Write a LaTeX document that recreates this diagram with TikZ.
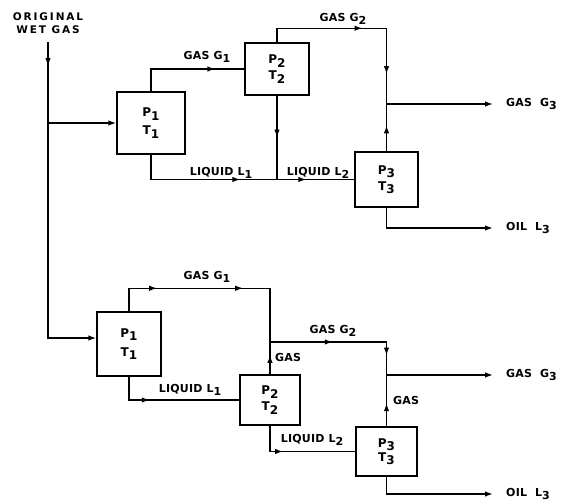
\documentclass[tikz,border=0pt]{standalone}
\usepackage{fontspec}
\setmainfont{DejaVu Sans}
\newfontfamily\stencil[LetterSpace=2]{DejaVu Sans}
\newfontfamily\widestencil[LetterSpace=18]{DejaVu Sans}
\usepackage{tikz}
\usetikzlibrary{positioning,calc,arrows.meta,decorations.markings}
\newcommand{\lsub}[1]{\raisebox{-0.5ex}{#1}}

\begin{document}
\begin{tikzpicture}[x=1pt, y=-1pt,
  stage/.style={rectangle, draw, line width=1.5pt, align=center, font=\stencil\bfseries\fontsize{12}{14}\selectfont, inner sep=0pt},
  pipe/.style={line width=1.4pt},
  tip/.style={-{Latex[length=8pt,width=5.5pt]}},
  arrowat/.style={postaction={decorate,decoration={markings,mark=at position #1 with {\arrow{Latex[length=8pt,width=5.5pt]}}}}},
  lbl/.style={font=\stencil\bfseries\fontsize{11}{13}\selectfont, inner sep=1pt}
]
  \useasboundingbox (0,0) rectangle (570,502);

  \node[stage, minimum width=68pt, minimum height=62pt] (p1a) at (151,123) {P\lsub{1}\\[4pt]T\lsub{1}};
  \node[stage, minimum width=64pt, minimum height=52pt] (p2a) at (277,69)  {P\lsub{2}\\[2pt]T\lsub{2}};
  \node[stage, minimum width=63pt, minimum height=55pt] (p3a) at (386.5,179.5) {P\lsub{3}\\[2pt]T\lsub{3}};
  \node[stage, minimum width=64pt, minimum height=64pt] (p1b) at (129,344) {P\lsub{1}\\[5pt]T\lsub{1}};
  \node[stage, minimum width=60pt, minimum height=50pt] (p2b) at (270,400) {P\lsub{2}\\[2pt]T\lsub{2}};
  \node[stage, minimum width=61pt, minimum height=49pt] (p3b) at (386.5,451.5) {P\lsub{3}\\[0pt]T\lsub{3}};

  \coordinate (feed) at (48,42);
  \coordinate (j0)   at (48,338);
  \coordinate (ja)   at (386.5,104);
  \coordinate (g3a)  at (493,104);
  \coordinate (oila) at (493,228);
  \coordinate (jb1)  at (270,342);
  \coordinate (jb2)  at (386.5,375);
  \coordinate (g3b)  at (493,375);
  \coordinate (oilb) at (493,494);

  \draw[pipe, tip, arrowat=0.07] (feed) -- (j0) -- (p1b.west |- j0);
  \draw[pipe, tip] (feed |- p1a.west) -- (p1a.west);

  \draw[pipe, arrowat=0.75] (p1a.north) |- (p2a.west);
  \draw[pipe, arrowat=0.5, arrowat=0.79] (p1a.south) |- (p3a.west);
  \draw[pipe, arrowat=0.5] (p2a.south) -- (p2a.south |- p3a.west);
  \draw[pipe, arrowat=0.5, arrowat=0.85] (p2a.north) -- ++(0,-14) -| (ja);
  \draw[pipe, arrowat=0.55] (p3a.north) -- (ja);
  \draw[pipe, tip] (ja) -- (g3a);
  \draw[pipe, tip] (p3a.south) |- (oila);

  \draw[pipe, arrowat=0.235, arrowat=0.63] (p1b.north) -- ++(0,-23) -| (jb1);
  \draw[pipe, arrowat=0.6] (p2b.north) -- (jb1);
  \draw[pipe, arrowat=0.42, arrowat=0.87] (jb1) -| (jb2);
  \draw[pipe, arrowat=0.45] (p3b.north) -- (jb2);
  \draw[pipe, tip] (jb2) -- (g3b);
  \draw[pipe, arrowat=0.33] (p1b.south) |- (p2b.west);
  \draw[pipe, arrowat=0.35] (p2b.south) |- (p3b.west);
  \draw[pipe, tip] (p3b.south) |- (oilb);

  \node[lbl, font=\widestencil\bfseries\fontsize{10.5}{12.5}\selectfont, align=center] (feedlbl) at (48,23) {ORIGINAL\\WET GAS};
  \node[lbl] (g1top)  at (207,57)  {GAS G\lsub{1}};
  \node[lbl] (g2top)  at (343,19)  {GAS G\lsub{2}};
  \node[lbl] (l1top)  at (221,173) {LIQUID L\lsub{1}};
  \node[lbl] (l2top)  at (318,173) {LIQUID L\lsub{2}};
  \node[lbl, right=12pt of g3a]  (g3top)  {GAS\ \ G\lsub{3}};
  \node[lbl, right=12pt of oila] (oiltop) {OIL\ \ L\lsub{3}};

  \node[lbl] (g1bot)  at (207,277) {GAS G\lsub{1}};
  \node[lbl] (g2bot)  at (333,331) {GAS G\lsub{2}};
  \node[lbl] (gas2b)  at (288,357) {GAS};
  \node[lbl] (gas3b)  at (406,400) {GAS};
  \node[lbl] (l1bot)  at (190,390) {LIQUID L\lsub{1}};
  \node[lbl] (l2bot)  at (312,440) {LIQUID L\lsub{2}};
  \node[lbl, right=12pt of g3b]  (g3bot)  {GAS\ \ G\lsub{3}};
  \node[lbl, right=12pt of oilb] (oilbot) {OIL\ \ L\lsub{3}};
\end{tikzpicture}
\end{document}
